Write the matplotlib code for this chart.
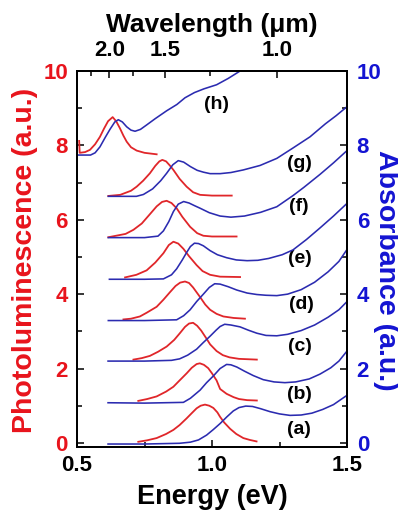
import matplotlib
matplotlib.use('Agg')
import matplotlib.pyplot as plt
from matplotlib.ticker import MultipleLocator

plt.rcParams.update({
    'font.family': ['Liberation Sans', 'DejaVu Sans'],
    'font.weight': 'bold',
    'axes.linewidth': 1.2,
})

# photoluminescence (red, left axis) and absorbance (blue, right axis), samples a-h
pl_a_x = [0.727, 0.76, 0.795, 0.83, 0.857, 0.88, 0.906, 0.925, 0.943, 0.958, 0.974, 0.99, 1.005, 1.02, 1.03, 1.045, 1.067, 1.09, 1.116, 1.14, 1.165]
pl_a_y = [0.03, 0.07, 0.13, 0.24, 0.35, 0.48, 0.66, 0.80, 0.93, 1.00, 1.03, 1.00, 0.94, 0.82, 0.70, 0.55, 0.38, 0.24, 0.13, 0.08, 0.04]
abs_a_x = [0.615, 0.75, 0.88, 0.92, 0.95, 0.98, 1.005, 1.03, 1.055, 1.079, 1.10, 1.125, 1.15, 1.18, 1.215, 1.25, 1.289, 1.33, 1.37, 1.41, 1.45, 1.5]
abs_a_y = [-0.03, -0.03, -0.01, 0.02, 0.08, 0.21, 0.36, 0.52, 0.70, 0.86, 0.95, 0.99, 0.98, 0.92, 0.84, 0.78, 0.74, 0.75, 0.80, 0.90, 1.03, 1.28]

pl_b_x = [0.727, 0.76, 0.795, 0.83, 0.857, 0.88, 0.906, 0.925, 0.943, 0.955, 0.97, 0.986, 1.0, 1.017, 1.03, 1.054, 1.08, 1.10, 1.13, 1.166]
pl_b_y = [1.13, 1.18, 1.25, 1.38, 1.51, 1.68, 1.87, 2.02, 2.12, 2.14, 2.10, 2.01, 1.87, 1.68, 1.45, 1.32, 1.23, 1.18, 1.15, 1.14]
abs_b_x = [0.615, 0.75, 0.894, 0.92, 0.956, 0.98, 1.005, 1.03, 1.054, 1.07, 1.092, 1.12, 1.153, 1.19, 1.23, 1.27, 1.31, 1.36, 1.40, 1.44, 1.47, 1.5]
abs_b_y = [1.08, 1.07, 1.09, 1.20, 1.42, 1.62, 1.80, 2.00, 2.11, 2.10, 2.04, 1.93, 1.81, 1.70, 1.64, 1.62, 1.64, 1.72, 1.85, 2.02, 2.20, 2.47]

pl_c_x = [0.709, 0.74, 0.77, 0.80, 0.832, 0.86, 0.881, 0.90, 0.915, 0.93, 0.945, 0.96, 0.98, 0.993, 1.017, 1.04, 1.065, 1.10, 1.166]
pl_c_y = [2.24, 2.28, 2.34, 2.45, 2.59, 2.77, 2.95, 3.12, 3.21, 3.23, 3.15, 3.02, 2.80, 2.65, 2.47, 2.36, 2.30, 2.26, 2.24]
abs_c_x = [0.615, 0.75, 0.85, 0.88, 0.91, 0.943, 0.968, 0.993, 1.015, 1.03, 1.047, 1.07, 1.104, 1.135, 1.166, 1.20, 1.24, 1.28, 1.33, 1.38, 1.43, 1.47, 1.5]
abs_c_y = [2.20, 2.20, 2.22, 2.26, 2.36, 2.52, 2.70, 2.87, 3.03, 3.13, 3.19, 3.17, 3.12, 3.03, 2.95, 2.89, 2.88, 2.92, 3.02, 3.17, 3.38, 3.58, 3.80]

pl_d_x = [0.672, 0.70, 0.733, 0.758, 0.795, 0.82, 0.844, 0.865, 0.882, 0.9, 0.915, 0.93, 0.956, 0.975, 0.993, 1.017, 1.042, 1.08, 1.122]
pl_d_y = [3.32, 3.34, 3.40, 3.50, 3.66, 3.85, 4.05, 4.22, 4.31, 4.34, 4.30, 4.18, 3.92, 3.72, 3.58, 3.47, 3.40, 3.36, 3.34]
abs_d_x = [0.616, 0.75, 0.869, 0.895, 0.919, 0.943, 0.968, 0.99, 1.01, 1.03, 1.06, 1.092, 1.13, 1.166, 1.20, 1.24, 1.28, 1.33, 1.38, 1.43, 1.47, 1.5]
abs_d_y = [3.29, 3.29, 3.31, 3.42, 3.58, 3.80, 4.00, 4.18, 4.28, 4.27, 4.20, 4.11, 4.03, 3.99, 3.97, 3.96, 4.00, 4.12, 4.32, 4.60, 4.88, 5.20]

pl_e_x = [0.678, 0.72, 0.758, 0.79, 0.82, 0.84, 0.857, 0.875, 0.894, 0.915, 0.943, 0.965, 0.993, 1.03, 1.104]
pl_e_y = [4.45, 4.52, 4.64, 4.85, 5.10, 5.32, 5.41, 5.36, 5.22, 5.02, 4.78, 4.62, 4.52, 4.47, 4.46]
abs_e_x = [0.62, 0.75, 0.82, 0.85, 0.869, 0.89, 0.906, 0.92, 0.935, 0.95, 0.968, 0.993, 1.02, 1.054, 1.09, 1.13, 1.17, 1.21, 1.26, 1.30, 1.35, 1.40, 1.45, 1.5]
abs_e_y = [4.40, 4.40, 4.41, 4.52, 4.68, 4.92, 5.12, 5.28, 5.37, 5.36, 5.30, 5.17, 5.06, 4.98, 4.92, 4.90, 4.91, 4.96, 5.06, 5.19, 5.47, 5.78, 6.10, 6.44]

pl_f_x = [0.616, 0.68, 0.709, 0.74, 0.77, 0.795, 0.815, 0.832, 0.85, 0.869, 0.89, 0.919, 0.945, 0.968, 1.0, 1.091]
pl_f_y = [5.53, 5.62, 5.73, 5.90, 6.15, 6.36, 6.48, 6.51, 6.45, 6.31, 6.08, 5.81, 5.64, 5.57, 5.55, 5.55]
abs_f_x = [0.616, 0.75, 0.80, 0.82, 0.84, 0.857, 0.875, 0.895, 0.915, 0.935, 0.956, 0.99, 1.03, 1.07, 1.12, 1.18, 1.24, 1.30, 1.34, 1.40, 1.45, 1.5]
abs_f_y = [5.52, 5.52, 5.56, 5.70, 5.95, 6.22, 6.42, 6.49, 6.45, 6.38, 6.31, 6.19, 6.10, 6.07, 6.10, 6.20, 6.35, 6.65, 6.87, 7.22, 7.53, 7.86]

pl_g_x = [0.616, 0.66, 0.70, 0.721, 0.745, 0.77, 0.79, 0.805, 0.816, 0.83, 0.845, 0.857, 0.88, 0.906, 0.93, 0.956, 1.0, 1.073]
pl_g_y = [6.64, 6.67, 6.78, 6.89, 7.05, 7.25, 7.45, 7.57, 7.61, 7.57, 7.45, 7.34, 7.10, 6.89, 6.74, 6.67, 6.65, 6.65]
abs_g_x = [0.616, 0.72, 0.746, 0.78, 0.81, 0.832, 0.855, 0.875, 0.895, 0.92, 0.945, 0.968, 0.993, 1.03, 1.07, 1.116, 1.178, 1.24, 1.30, 1.363, 1.42, 1.46, 1.5]
abs_g_y = [6.63, 6.63, 6.68, 6.83, 7.05, 7.25, 7.48, 7.59, 7.55, 7.43, 7.33, 7.28, 7.24, 7.24, 7.27, 7.34, 7.46, 7.65, 7.93, 8.23, 8.58, 8.80, 9.04]

pl_h_x = [0.508, 0.51, 0.53, 0.548, 0.567, 0.585, 0.60, 0.615, 0.632, 0.645, 0.659, 0.672, 0.684, 0.70, 0.721, 0.75, 0.795]
pl_h_y = [8.12, 7.80, 7.82, 7.88, 8.03, 8.23, 8.45, 8.65, 8.76, 8.65, 8.46, 8.26, 8.10, 7.95, 7.86, 7.80, 7.76]
abs_h_x = [0.505, 0.55, 0.567, 0.585, 0.605, 0.622, 0.64, 0.653, 0.668, 0.684, 0.70, 0.715, 0.735, 0.758, 0.79, 0.832, 0.87, 0.90, 0.935, 0.97, 1.017, 1.06, 1.104]
abs_h_y = [7.74, 7.74, 7.80, 7.96, 8.22, 8.43, 8.63, 8.69, 8.63, 8.50, 8.41, 8.38, 8.43, 8.55, 8.72, 8.93, 9.10, 9.28, 9.42, 9.52, 9.63, 9.80, 10.0]

panel_labels = ['(a)', '(b)', '(c)', '(d)', '(e)', '(f)', '(g)', '(h)']
label_x = [1.322, 1.325, 1.325, 1.33, 1.325, 1.322, 1.322, 1.017]
label_y = [0.35, 1.29, 2.59, 3.71, 4.96, 6.35, 7.52, 9.09]

wl_major = [2.0, 1.5, 1.0]
wl_minor = [2.25, 1.75, 1.25]

red_txt = '#e8141c'
blue_txt = '#1414d2'
red_line = '#e0262a'
blue_line = '#2b2bb0'

fig = plt.figure(figsize=(3.98, 5.12), dpi=100)
ax = fig.add_axes([77/398, 1 - 447/512, 270/398, 376/512])
ax2 = ax.twinx()
ax3 = ax.twiny()

pl_sets = [(pl_a_x, pl_a_y), (pl_b_x, pl_b_y), (pl_c_x, pl_c_y), (pl_d_x, pl_d_y),
           (pl_e_x, pl_e_y), (pl_f_x, pl_f_y), (pl_g_x, pl_g_y), (pl_h_x, pl_h_y)]
abs_sets = [(abs_a_x, abs_a_y), (abs_b_x, abs_b_y), (abs_c_x, abs_c_y), (abs_d_x, abs_d_y),
            (abs_e_x, abs_e_y), (abs_f_x, abs_f_y), (abs_g_x, abs_g_y), (abs_h_x, abs_h_y)]

for xs, ys in pl_sets:
    ax.plot(xs, ys, color=red_line, lw=1.3)
for xs, ys in abs_sets:
    ax2.plot(xs, ys, color=blue_line, lw=1.15)

for lab, lx, ly in zip(panel_labels, label_x, label_y):
    ax.text(lx, ly, lab, ha='center', va='center', fontsize=14, fontweight='bold')

ax.set_xlim(0.5, 1.5)
ax.set_ylim(-0.11, 10)
ax2.set_ylim(-0.11, 10)
ax3.set_xlim(0.5, 1.5)

ax.set_xticks([0.5, 1.0, 1.5])
ax.set_xticklabels(['0.5', '1.0', '1.5'])
ax.xaxis.set_minor_locator(MultipleLocator(0.25))
ax.set_yticks(range(0, 11, 2))
ax.yaxis.set_minor_locator(MultipleLocator(1))
ax2.set_yticks(range(0, 11, 2))
ax2.yaxis.set_minor_locator(MultipleLocator(1))

ax3.set_xticks([1.24 / w for w in wl_major])
ax3.set_xticklabels([f'{w:.1f}' for w in wl_major])
ax3.set_xticks([1.24 / w for w in wl_minor], minor=True)

ax.tick_params(axis='x', which='both', direction='in', top=False, labelsize=16, pad=6)
ax.tick_params(axis='y', which='both', direction='in', right=False, labelsize=16, pad=6.5,
               labelcolor=red_txt)
ax2.tick_params(axis='y', which='both', direction='in', labelsize=16, pad=7, labelcolor=blue_txt)
ax3.tick_params(axis='x', which='both', direction='in', labelsize=16, pad=7)
for a in (ax, ax2, ax3):
    a.tick_params(which='major', length=5, width=1.1)
    a.tick_params(which='minor', length=3.5, width=1.1)

fig.text(212/398, 1 - 497/512, 'Energy (eV)', ha='center', va='center', fontsize=19.5,
         fontweight='bold')
fig.text(212/398, 1 - 25/512, 'Wavelength (μm)', ha='center', va='center', fontsize=19,
         fontweight='bold')
fig.text(25/398, 1 - 260/512, 'Photoluminescence (a.u.)', ha='center', va='center',
         rotation=90, fontsize=20.5, fontweight='bold', color=red_txt)
fig.text(386/398, 1 - 270/512, 'Absorbance (a.u.)', ha='center', va='center',
         rotation=270, fontsize=20.5, fontweight='bold', color=blue_txt)

fig.savefig('out.png', dpi=100)
